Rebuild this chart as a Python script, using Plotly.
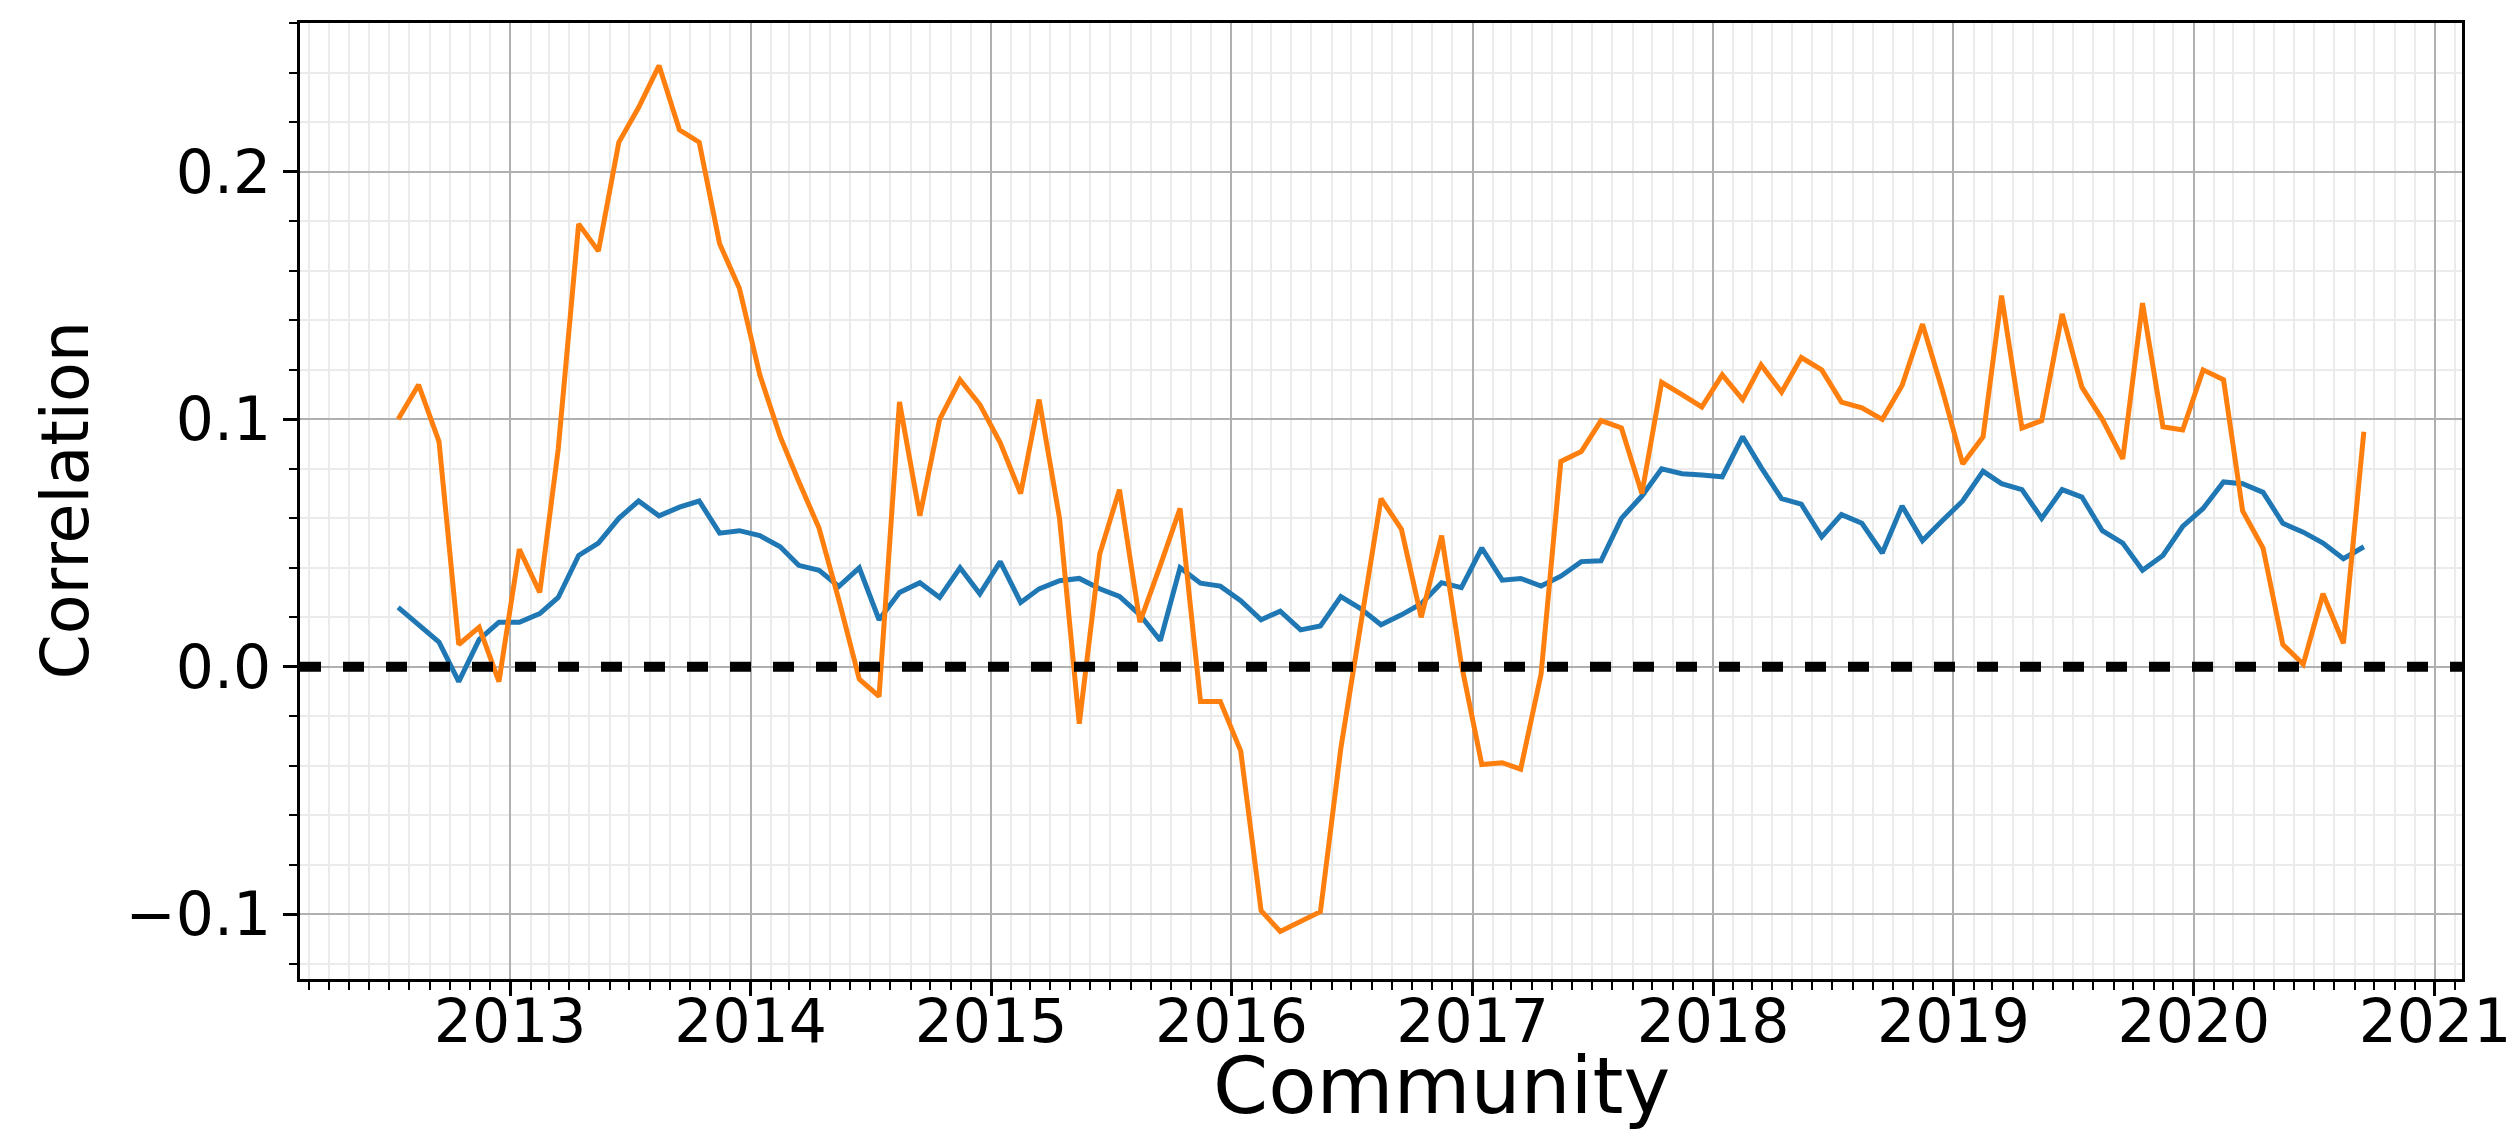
import plotly.graph_objects as go

# Monthly samples (mid-month), Jul 2012 .. Sep 2020
months = [f"{2012 + (6 + i) // 12}-{(6 + i) % 12 + 1:02d}-15" for i in range(99)]

blue_vals = [
    0.024, 0.017, 0.010, -0.006, 0.011, 0.018, 0.018, 0.0215, 0.028, 0.045,
    0.050, 0.060, 0.067, 0.061, 0.0645, 0.067, 0.054, 0.055, 0.053, 0.0485,
    0.041, 0.039, 0.0325, 0.040, 0.019, 0.030, 0.034, 0.028, 0.040, 0.0295,
    0.0425, 0.026, 0.0315, 0.0348, 0.0357, 0.0315, 0.0284, 0.021, 0.0106, 0.040,
    0.0338, 0.0326, 0.0267, 0.019, 0.0225, 0.0149, 0.0165, 0.0284, 0.0235, 0.017,
    0.021, 0.0255, 0.034, 0.032, 0.048, 0.035, 0.0357, 0.0326, 0.0366, 0.0425,
    0.0428, 0.060, 0.069, 0.080, 0.078, 0.0775, 0.0768, 0.093, 0.0806, 0.068,
    0.0657, 0.0525, 0.0615, 0.058, 0.046, 0.065, 0.051, 0.059, 0.067, 0.079,
    0.074, 0.0716, 0.060, 0.0716, 0.0686, 0.055, 0.050, 0.039, 0.045, 0.0567,
    0.064, 0.0747, 0.074, 0.0705, 0.058, 0.0544, 0.050, 0.0437, 0.0485,
]

orange_vals = [
    0.100, 0.114, 0.091, 0.009, 0.016, -0.006, 0.0475, 0.030, 0.088, 0.179,
    0.168, 0.212, 0.226, 0.243, 0.217, 0.212, 0.171, 0.153, 0.118, 0.093,
    0.075, 0.056, 0.027, -0.005, -0.012, 0.107, 0.061, 0.100, 0.116, 0.106,
    0.0905, 0.070, 0.108, 0.060, -0.023, 0.0456, 0.0716, 0.018, 0.041, 0.064,
    -0.014, -0.014, -0.034, -0.0986, -0.107, -0.103, -0.099, -0.033, 0.016, 0.068,
    0.0556, 0.020, 0.053, 0.001, -0.0395, -0.0388, -0.0414, -0.003, 0.083, 0.087,
    0.0995, 0.0965, 0.070, 0.115, 0.110, 0.105, 0.118, 0.108, 0.122, 0.111,
    0.125, 0.120, 0.107, 0.1047, 0.100, 0.1137, 0.1385, 0.112, 0.082, 0.093,
    0.150, 0.0965, 0.0995, 0.1426, 0.113, 0.100, 0.084, 0.147, 0.097, 0.0957,
    0.120, 0.116, 0.063, 0.048, 0.009, 0.001, 0.0295, 0.0095, 0.095,
]

year_ticks = [f"{y}-01-01" for y in range(2013, 2022)]
year_labels = [str(y) for y in range(2013, 2022)]
y_ticks = [-0.1, 0.0, 0.1, 0.2]
y_labels = ["\u22120.1", "0.0", "0.1", "0.2"]

FONT = "DejaVu Sans"

fig = go.Figure()
fig.add_trace(go.Scatter(x=months, y=blue_vals, mode="lines",
                         line=dict(color="#1f77b4", width=5), name="blue"))
fig.add_trace(go.Scatter(x=months, y=orange_vals, mode="lines",
                         line=dict(color="#ff7f0e", width=5), name="orange"))

# zero reference line
fig.add_shape(type="line", xref="paper", x0=0, x1=1, yref="y", y0=0, y1=0,
              line=dict(color="black", width=10, dash="21px,22px"), layer="above")

fig.update_layout(
    width=2515, height=1131,
    margin=dict(l=292, r=56, t=15, b=160),
    plot_bgcolor="white", paper_bgcolor="white",
    showlegend=False,
    font=dict(family=FONT, color="black"),
)

fig.update_xaxes(
    type="date", range=["2012-02-17", "2021-02-11"],
    tickmode="array", tickvals=year_ticks, ticktext=year_labels,
    tickfont=dict(size=60, family=FONT, color="black"),
    ticklabelstandoff=-26,
    showgrid=True, gridcolor="#b0b0b0", gridwidth=2,
    ticks="outside", ticklen=14, tickwidth=2.5, tickcolor="black",
    showline=True, linecolor="black", linewidth=2.5, mirror=True,
    zeroline=False,
    minor=dict(dtick="M1", tick0="2012-01-01", ticks="outside", ticklen=8,
               tickwidth=1.8, tickcolor="black", showgrid=True,
               gridcolor="#ebebeb", gridwidth=1.5),
)

fig.update_yaxes(
    range=[-0.1262, 0.2602],
    tickmode="array", tickvals=y_ticks, ticktext=y_labels,
    tickfont=dict(size=60, family=FONT, color="black"),
    showgrid=True, gridcolor="#b0b0b0", gridwidth=2,
    ticks="outside", ticklen=14, tickwidth=2.5, tickcolor="black",
    showline=True, linecolor="black", linewidth=2.5, mirror=True,
    zeroline=False,
    minor=dict(tickmode="linear", tick0=0, dtick=0.02, ticks="outside", ticklen=8,
               tickwidth=1.8, tickcolor="black", showgrid=True,
               gridcolor="#ebebeb", gridwidth=1.5),
)

fig.add_annotation(text="Community", xref="paper", yref="paper",
                   x=0.528, y=-0.112, xanchor="center", yanchor="middle",
                   showarrow=False, font=dict(size=79, family=FONT, color="black"))
fig.add_annotation(text="Correlation", xref="paper", yref="paper",
                   x=-0.1089, y=0.5, xanchor="center", yanchor="middle",
                   textangle=-90, showarrow=False,
                   font=dict(size=65, family=FONT, color="black"))

fig.write_html("out.html")
